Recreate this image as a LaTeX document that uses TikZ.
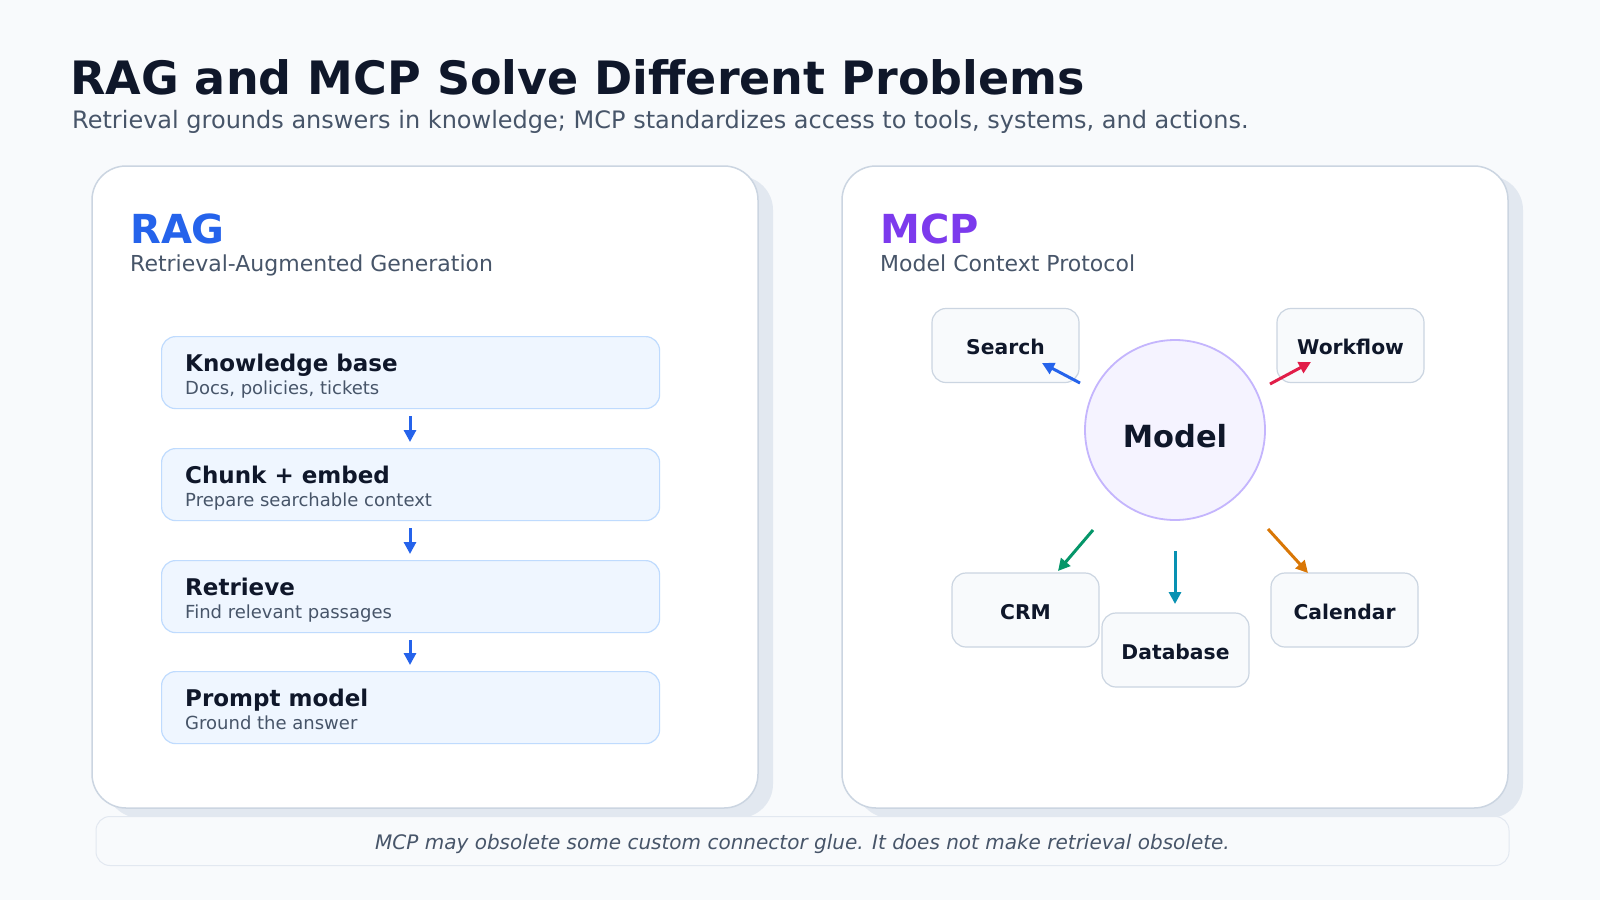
\documentclass[tikz,border=0pt]{standalone}
\usepackage{fontspec}
\setmainfont{DejaVu Sans}
\usetikzlibrary{arrows.meta,positioning}
\definecolor{bgc}{HTML}{F8FAFC}
\definecolor{ink}{HTML}{0F172A}
\definecolor{slate}{HTML}{475569}
\definecolor{ragblue}{HTML}{2563EB}
\definecolor{mcppurple}{HTML}{7C3AED}
\definecolor{stepfill}{HTML}{EFF6FF}
\definecolor{stepline}{HTML}{BFDBFE}
\definecolor{toolline}{HTML}{CBD5E1}
\definecolor{panelline}{HTML}{CBD5E1}
\definecolor{shadowc}{HTML}{E2E8F0}
\definecolor{modelfill}{HTML}{F5F3FF}
\definecolor{modelline}{HTML}{C4B5FD}
\definecolor{arrred}{HTML}{E11D48}
\definecolor{arrgreen}{HTML}{059669}
\definecolor{arrcyan}{HTML}{0891B2}
\definecolor{arrorange}{HTML}{D97706}

\tikzset{
  panel/.style={draw=panelline, line width=1.5pt, fill=white, rounded corners=34pt},
  ragstep/.style={draw=stepline, line width=1.2pt, fill=stepfill, rounded corners=14pt,
    minimum width=498pt, minimum height=72pt, anchor=north west},
  steptitle/.style={anchor=base west, inner sep=0pt, font=\fontsize{23}{26}\selectfont\bfseries, text=ink},
  stepsub/.style={anchor=base west, inner sep=0pt, font=\fontsize{18}{21}\selectfont, text=slate},
  tool/.style={draw=toolline, line width=1.2pt, fill=bgc, rounded corners=14pt,
    minimum width=147pt, minimum height=74pt, font=\fontsize{20.3}{23}\selectfont\bfseries, text=ink},
  flow/.style={-{Triangle[length=12pt,width=12pt]}, line width=3pt},
}
\newcommand{\lowered}[2]{\raisebox{-#1}[0pt][0pt]{#2}}

\begin{document}
\begin{tikzpicture}[x=1pt,y=1pt,yscale=-1]
\useasboundingbox[fill=bgc] (0,0) rectangle (1600,900);

% Title
\node[anchor=base west, inner sep=0pt, font=\fontsize{46}{50}\selectfont\bfseries, text=ink] (title) at (70,94) {RAG and MCP Solve Different Problems};
\node[anchor=base west, inner sep=0pt, font=\fontsize{24}{28}\selectfont, text=slate] (subtitle) at (72,128) {Retrieval grounds answers in knowledge; MCP standardizes access to tools, systems, and actions.};

% Panels
\fill[shadowc, rounded corners=34pt] (106,176) rectangle (773,818);
\fill[shadowc, rounded corners=34pt] (856,176) rectangle (1523,818);
\draw[panel] (92,166) rectangle (758,808);
\draw[panel] (842,166) rectangle (1508,808);

% RAG side
\node[anchor=base west, inner sep=0pt, font=\fontsize{40}{44}\selectfont\bfseries, text=ragblue] (ragtitle) at (130,243) {RAG};
\node[anchor=base west, inner sep=0pt, font=\fontsize{22}{26}\selectfont, text=slate] (ragsub) at (130,271) {Retrieval-Augmented Generation};

\node[ragstep] (kb) at (161,336) {};
\node[ragstep] (chunk) at (161,448) {};
\node[ragstep] (retrieve) at (161,560) {};
\node[ragstep] (prompt) at (161,671) {};
\foreach \s/\t/\u in {kb/Knowledge base/{Docs, policies, tickets},
                      chunk/Chunk + embed/Prepare searchable context,
                      retrieve/Retrieve/Find relevant passages,
                      prompt/Prompt model/Ground the answer}{
  \node[steptitle] (\s-t) at ([xshift=24pt,yshift=-1pt]\s.west) {\t};
  \node[stepsub] (\s-u) at ([xshift=24pt,yshift=22pt]\s.west) {\u};
}

\draw[flow, ragblue, shorten <=7pt, shorten >=6pt] (kb.south -| 410,0) -- (chunk.north -| 410,0);
\draw[flow, ragblue, shorten <=7pt, shorten >=6pt] (chunk.south -| 410,0) -- (retrieve.north -| 410,0);
\draw[flow, ragblue, shorten <=7pt, shorten >=6pt] (retrieve.south -| 410,0) -- (prompt.north -| 410,0);

% MCP side
\node[anchor=base west, inner sep=0pt, font=\fontsize{40}{44}\selectfont\bfseries, text=mcppurple] (mcptitle) at (880,243) {MCP};
\node[anchor=base west, inner sep=0pt, font=\fontsize{22}{26}\selectfont, text=slate] (mcpsub) at (880,271) {Model Context Protocol};

\node[tool] (search) at (1005.5,345.5) {\lowered{9pt}{Search}};
\node[tool] (workflow) at (1350.5,345.5) {\lowered{9pt}{Workflow}};
\node[tool] (crm) at (1025.5,610) {\lowered{9pt}{CRM}};
\node[tool] (database) at (1175.5,650) {\lowered{9pt}{Database}};
\node[tool] (calendar) at (1344.5,610) {\lowered{9pt}{Calendar}};
\node[circle, draw=modelline, line width=1.8pt, fill=modelfill, minimum size=180pt,
  font=\fontsize{30.5}{34}\selectfont\bfseries, text=ink] (model) at (1175,430) {\lowered{17pt}{Model}};

\coordinate (sA) at (1080,383); \coordinate (sB) at (1042,363);
\coordinate (wA) at (1270,384); \coordinate (wB) at (1311,362);
\coordinate (cA) at (1093,530); \coordinate (cB) at (1058,571);
\coordinate (dA) at (1175,551); \coordinate (dB) at (1175,604);
\coordinate (kA) at (1268,529); \coordinate (kB) at (1308,573);
\draw[flow, ragblue] (sA) -- (sB);
\draw[flow, arrred] (wA) -- (wB);
\draw[flow, arrgreen] (cA) -- (cB);
\draw[flow, arrcyan] (dA) -- (dB);
\draw[flow, arrorange] (kA) -- (kB);

% Footer
\node[draw=shadowc, line width=1pt, fill=bgc, rounded corners=14pt, minimum width=1413pt, minimum height=49pt,
  font=\fontsize{20}{24}\selectfont\itshape, text=slate] (footer) at (802.5,841) {\lowered{8pt}{MCP may obsolete some custom connector glue. It does not make retrieval obsolete.}};
\end{tikzpicture}
\end{document}
